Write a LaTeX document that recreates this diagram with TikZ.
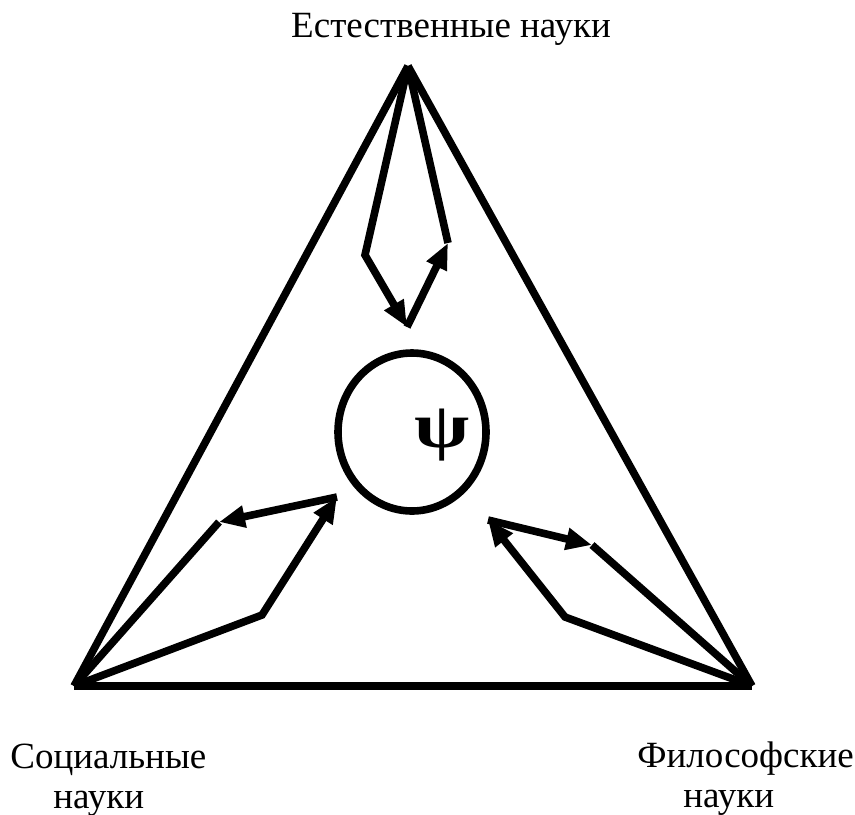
\documentclass[tikz,border=0pt]{standalone}
\usepackage{fontspec}
\setmainfont{Liberation Serif}
\usepackage{graphicx}
\usepackage{tikz}
\usetikzlibrary{arrows.meta, shapes.geometric}
\tikzset{
  side/.style={line width=3.8pt, draw=black},
  link/.style={line width=3.8pt, draw=black},
  arrow/.style={link, -{Triangle[length=13pt, width=10.5pt]}},
  core/.style={ellipse, draw=black, line width=3.8pt, inner sep=0pt, minimum width=74pt, minimum height=79pt},
  caption/.style={inner sep=0pt, align=left, font=\fontsize{18.5}{20}\selectfont},
}
\begin{document}
\begin{tikzpicture}[x=0.5pt, y=-0.5pt]
  \useasboundingbox (0,0) rectangle (855,814);
  % vertices
  \coordinate (nat) at (408,66);
  \coordinate (soc) at (74,686);
  \coordinate (phil) at (752,686);
  % bends of the links
  \coordinate (nl) at (365,255);
  \coordinate (nm) at (407,327);
  \coordinate (nr) at (448,243);
  \coordinate (sl) at (262,615);
  \coordinate (sm) at (337,497);
  \coordinate (sr) at (219,522);
  \coordinate (pl) at (565,617);
  \coordinate (pm) at (488,520);
  \coordinate (pr) at (592,545);
  % triangle
  \draw[side] (soc) -- (nat);
  \draw[side] (nat) -- (phil);
  \draw[side] (soc) -- (phil);
  % centre
  \node[core] (psy) at (412,432) {};
  \node[inner sep=0pt, font=\fontsize{32}{36}\selectfont\bfseries] (psi) at (442,435) {\scalebox{1.25}[1]{ψ}};
  % links
  \draw[arrow] (nat) -- (nl) -- (nm);
  \draw[arrow] (nm) -- (nr);
  \draw[link] (nat) -- (nr);
  \draw[arrow] (soc) -- (sl) -- (sm);
  \draw[arrow] (sm) -- (sr);
  \draw[link] (soc) -- (sr);
  \draw[arrow] (phil) -- (pl) -- (pm);
  \draw[arrow] (pm) -- (pr);
  \draw[link] (phil) -- (pr);
  % captions
  \node[caption, anchor=base] (natl) at (451,37) {Естественные науки};
  \node[caption, anchor=north west] (socl) at (10,744) {Социальные\\\hspace*{21.5pt}науки};
  \node[caption, anchor=north west] (phill) at (637,741) {Философские\\\hspace*{23pt}науки};
\end{tikzpicture}
\end{document}
